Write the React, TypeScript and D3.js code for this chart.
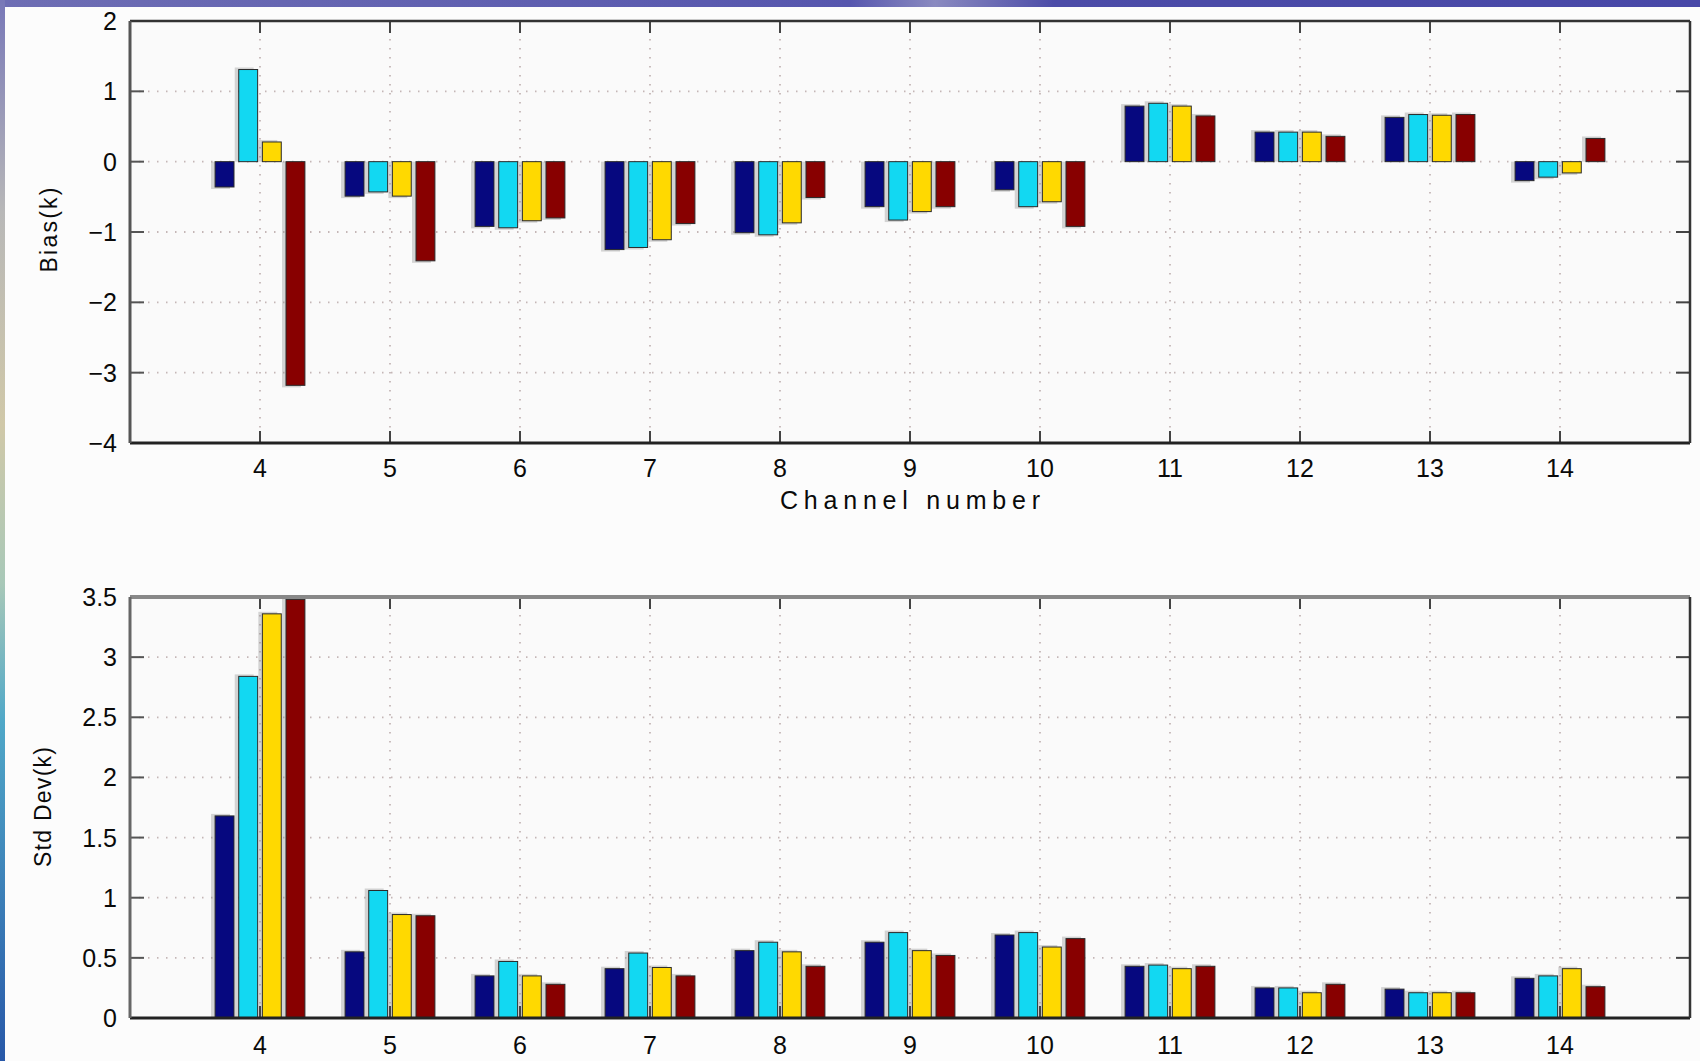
import React from "react";
import * as d3 from "d3";

const channels = [4, 5, 6, 7, 8, 9, 10, 11, 12, 13, 14];
const seriesColors = ["#06087f", "#12d8f2", "#ffd900", "#880000"];

// Bias (K) per channel, four series
const biasNavy = [-0.36, -0.49, -0.92, -1.25, -1.01, -0.64, -0.4, 0.79, 0.42, 0.63, -0.27];
const biasCyan = [1.31, -0.43, -0.94, -1.22, -1.04, -0.83, -0.64, 0.83, 0.42, 0.67, -0.22];
const biasYellow = [0.28, -0.49, -0.84, -1.11, -0.87, -0.71, -0.57, 0.79, 0.42, 0.66, -0.16];
const biasRed = [-3.18, -1.41, -0.8, -0.88, -0.51, -0.64, -0.92, 0.65, 0.36, 0.67, 0.33];

// Std Dev (K) per channel, four series
const stdNavy = [1.68, 0.55, 0.35, 0.41, 0.56, 0.63, 0.69, 0.43, 0.25, 0.24, 0.33];
const stdCyan = [2.84, 1.06, 0.47, 0.54, 0.63, 0.71, 0.71, 0.44, 0.25, 0.21, 0.35];
const stdYellow = [3.36, 0.86, 0.35, 0.42, 0.55, 0.56, 0.59, 0.41, 0.21, 0.21, 0.41];
const stdRed = [3.48, 0.85, 0.28, 0.35, 0.43, 0.52, 0.66, 0.43, 0.28, 0.21, 0.26];

const biasTicks = [2, 1, 0, -1, -2, -3, -4];
const stdTicks = [3.5, 3, 2.5, 2, 1.5, 1, 0.5, 0];

const biasSeries = [biasNavy, biasCyan, biasYellow, biasRed];
const stdSeries = [stdNavy, stdCyan, stdYellow, stdRed];

const FONT = "'Liberation Sans', Arial, Helvetica, sans-serif";
const X0 = 130;
const X1 = 1690;

const x = d3.scaleLinear().domain([3, 15]).range([X0, X1]);
const unit = x(4) - x(3);
const groupW = (unit * 4) / 5.5;
const slot = groupW / 4;
const barW = slot * 0.8;

function fmt(v: number) {
  const s = String(Math.abs(v));
  return v < 0 ? "\u2212" + s : s;
}

function Panel({ y, ticks, series, top, bottom, topStroke, leftStroke, labelBaseline }: any) {
  const [ymin, ymax] = y.domain();
  return (
    <g>
      <rect x={X0} y={top} width={X1 - X0} height={bottom - top} fill="#fafafa" />
      {ticks.map((t: number) =>
        t !== ymin && t !== ymax ? (
          <line key={"gy" + t} x1={X0} x2={X1} y1={y(t)} y2={y(t)} stroke="#c4b6b6" strokeWidth={1.8} strokeDasharray="1.5 7.5" />
        ) : null
      )}
      {channels.map((c) => (
        <line key={"gx" + c} x1={x(c)} x2={x(c)} y1={top} y2={bottom} stroke="#c4b6b6" strokeWidth={1.8} strokeDasharray="1.5 7.5" />
      ))}
      {series.map((vals: number[], si: number) =>
        vals.map((v: number, ci: number) => {
          const cx = x(channels[ci]) + (si - 1.5) * slot;
          const y0 = y(0);
          const yv = y(v);
          const ext = v >= 0 ? -2 : 2;
          const ya = Math.min(y0, yv + ext);
          const yb = Math.max(y0, yv + ext);
          return (
            <rect key={"s" + si + "-" + ci} x={cx - barW / 2 - 4} y={Math.max(top, ya)} width={barW} height={Math.min(bottom, yb) - Math.max(top, ya)} fill="#8a8a8a" opacity={0.35} />
          );
        })
      )}
      {series.map((vals: number[], si: number) =>
        vals.map((v: number, ci: number) => {
          const cx = x(channels[ci]) + (si - 1.5) * slot;
          const y0 = y(0);
          const yv = y(v);
          const ya = Math.max(top, Math.min(y0, yv));
          const yb = Math.max(y0, yv);
          return (
            <rect key={"b" + si + "-" + ci} x={cx - barW / 2} y={ya} width={barW} height={yb - ya} fill={seriesColors[si]} stroke="#2a2a2a" strokeWidth={1} />
          );
        })
      )}
      {channels.map((c) => (
        <g key={"tx" + c}>
          <line x1={x(c)} x2={x(c)} y1={top} y2={top + 12} stroke="#444" strokeWidth={2} />
          <line x1={x(c)} x2={x(c)} y1={bottom} y2={bottom - 12} stroke="#444" strokeWidth={2} />
          <text x={x(c)} y={labelBaseline} textAnchor="middle" fontFamily={FONT} fontSize={25} fill="#0a0a0a">
            {c}
          </text>
        </g>
      ))}
      {ticks.map((t: number) => (
        <g key={"ty" + t}>
          <line x1={X0} x2={X0 + 14} y1={y(t)} y2={y(t)} stroke="#555" strokeWidth={2} />
          <line x1={X1} x2={X1 - 14} y1={y(t)} y2={y(t)} stroke="#444" strokeWidth={2} />
          <text x={117} y={y(t) + 9} textAnchor="end" fontFamily={FONT} fontSize={25} fill="#0a0a0a">
            {fmt(t)}
          </text>
        </g>
      ))}
      <line x1={X0} x2={X1} y1={top} y2={top} stroke={topStroke} strokeWidth={topStroke === "#888" ? 4 : 2.5} />
      <line x1={X0} x2={X1} y1={bottom} y2={bottom} stroke="#222" strokeWidth={3} />
      <line x1={X0} x2={X0} y1={top} y2={bottom} stroke={leftStroke} strokeWidth={3} />
      <line x1={X1} x2={X1} y1={top} y2={bottom} stroke="#333" strokeWidth={2.5} />
    </g>
  );
}

export default function App() {
  const yBias = d3.scaleLinear().domain([-4, 2]).range([443, 21]);
  const yStd = d3.scaleLinear().domain([0, 3.5]).range([1018, 597]);
  return (
    <svg width={1700} height={1061} style={{ position: "absolute", left: 0, top: 0, background: "#fcfcfc" }}>
      <defs>
        <linearGradient id="topband" x1="0" x2="1" y1="0" y2="0">
          <stop offset="0" stopColor="#6e6eb4" />
          <stop offset="0.5" stopColor="#5656ae" />
          <stop offset="0.55" stopColor="#8a8ac0" />
          <stop offset="0.62" stopColor="#4c4ca8" />
          <stop offset="1" stopColor="#4848a8" />
        </linearGradient>
        <linearGradient id="leftband" x1="0" x2="0" y1="0" y2="1">
          <stop offset="0" stopColor="#7878b8" />
          <stop offset="0.2" stopColor="#b8b8b8" />
          <stop offset="0.4" stopColor="#d0c8a8" />
          <stop offset="0.55" stopColor="#a8c8b8" />
          <stop offset="0.68" stopColor="#50a8c8" />
          <stop offset="1" stopColor="#2858a8" />
        </linearGradient>
      </defs>
      <rect x={0} y={0} width={1700} height={1061} fill="#fcfcfc" />
      <rect x={0} y={0} width={1700} height={7} fill="url(#topband)" />
      <rect x={0} y={0} width={5} height={1061} fill="url(#leftband)" />

      <Panel y={yBias} ticks={biasTicks} series={biasSeries} top={21} bottom={443} topStroke="#333" leftStroke="#555" labelBaseline={477} />
      <Panel y={yStd} ticks={stdTicks} series={stdSeries} top={597} bottom={1018} topStroke="#888" leftStroke="#666" labelBaseline={1054} />

      <text x={910} y={509} textAnchor="middle" fontFamily={FONT} fontSize={25} fill="#0a0a0a" textLength={260} lengthAdjust="spacing">
        Channel number
      </text>
      <text transform="translate(57,230) rotate(-90)" textAnchor="middle" fontFamily={FONT} fontSize={23} fill="#0a0a0a" textLength={85} lengthAdjust="spacing">
        Bias(k)
      </text>
      <text transform="translate(51,807) rotate(-90)" textAnchor="middle" fontFamily={FONT} fontSize={23} fill="#0a0a0a" textLength={120} lengthAdjust="spacing">
        Std Dev(k)
      </text>
    </svg>
  );
}
